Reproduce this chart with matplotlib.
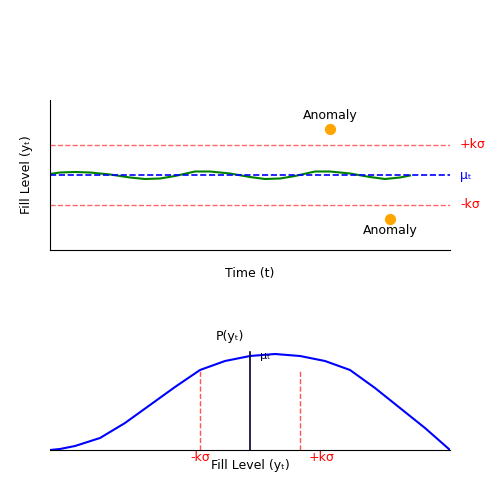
import matplotlib
matplotlib.use("Agg")
import matplotlib.pyplot as plt

# top panel: time series (x in px from left spine, y in px above bottom spine)
wave_x = [0, 10, 25, 40, 60, 80, 95, 110, 125, 145, 160, 180, 200, 215, 230, 245,
          265, 280, 300, 320, 335, 350, 360]
wave_y = [76, 77.5, 78, 77.5, 75.5, 72.5, 71, 71.5, 74, 78.5, 78.5, 76.5, 73, 71, 71.5, 74,
          78.5, 78.5, 76.5, 73, 71, 72.5, 74.5]
mu, upper, lower = 75, 105, 45
anomaly_x = [280, 340]
anomaly_y = [121, 31]

# bottom panel: density curve
dens_x = [0, 10, 25, 50, 75, 100, 125, 150, 175, 200, 225, 250, 275, 300, 325, 350, 375, 400]
dens_y = [0, 1, 4, 12, 27, 45, 63, 80, 89, 94, 96, 94, 89, 80, 62, 42, 22, 0]
mu_x, lo_x, hi_x = 200, 150, 250

fig = plt.figure(figsize=(5, 5), dpi=100)

ax1 = fig.add_axes([0.1, 0.5, 0.8, 0.3])
ax1.plot(wave_x, wave_y, color="green", lw=1.5)
ax1.axhline(mu, color="blue", ls="--", lw=1.2)
ax1.axhline(upper, color="#ff5555", ls="--", lw=1.0, alpha=0.9)
ax1.axhline(lower, color="#ff5555", ls="--", lw=1.0, alpha=0.9)
ax1.scatter(anomaly_x, anomaly_y, color="orange", s=50, zorder=3)
ax1.text(anomaly_x[0], anomaly_y[0] + 7, "Anomaly", ha="center", va="bottom", fontsize=9)
ax1.text(anomaly_x[1], anomaly_y[1] - 5, "Anomaly", ha="center", va="top", fontsize=9)
ax1.text(410, upper, "+kσ", color="red", va="center", fontsize=9)
ax1.text(410, mu, "μₜ", color="blue", va="center", fontsize=9)
ax1.text(410, lower, "-kσ", color="red", va="center", fontsize=9)
ax1.set_xlim(0, 400)
ax1.set_ylim(0, 150)
ax1.set_xticks([])
ax1.set_yticks([])
for s in ("top", "right"):
    ax1.spines[s].set_visible(False)
ax1.set_xlabel("Time (t)", fontsize=9, labelpad=12)
ax1.set_ylabel("Fill Level (yₜ)", fontsize=9, labelpad=12)

ax2 = fig.add_axes([0.1, 0.1, 0.8, 0.2])
ax2.plot(dens_x, dens_y, color="blue", lw=1.5)
ax2.plot([mu_x, mu_x], [0, 98], color="#000033", lw=1.2, clip_on=False)
ax2.plot([lo_x, lo_x], [0, 80], color="#ff5555", ls="--", lw=1.0)
ax2.plot([hi_x, hi_x], [0, 80], color="#ff5555", ls="--", lw=1.0)
ax2.text(lo_x, -1, "-kσ", color="red", ha="center", va="top", fontsize=9)
ax2.text(hi_x + 22, -1, "+kσ", color="red", ha="center", va="top", fontsize=9)
ax2.text(200, -9, "Fill Level (yₜ)", ha="center", va="top", fontsize=9)
ax2.text(180, 107, "P(yₜ)", ha="center", va="bottom", fontsize=9)
ax2.text(mu_x + 10, 94, "μₜ", color="#000033", va="center", fontsize=8)
ax2.set_xlim(0, 400)
ax2.set_ylim(0, 100)
ax2.set_xticks([])
ax2.set_yticks([])
for s in ("top", "right", "left"):
    ax2.spines[s].set_visible(False)

fig.savefig("out.png")
